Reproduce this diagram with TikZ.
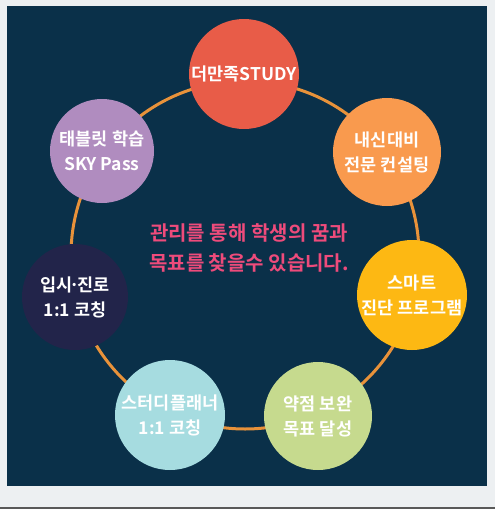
\documentclass[tikz,border=0pt]{standalone}
\usepackage{fontspec}
\newfontfamily\kr{Noto Sans CJK KR}[BoldFont={Noto Sans CJK KR Bold}]
\definecolor{bgnavy}{HTML}{0A3049}
\definecolor{outer}{HTML}{EDF0F2}
\definecolor{ringc}{HTML}{E8923A}
\definecolor{cred}{HTML}{E85C48}
\definecolor{cpurple}{HTML}{B08CBF}
\definecolor{corange}{HTML}{F99A4E}
\definecolor{cindigo}{HTML}{22244A}
\definecolor{cyellow}{HTML}{FDB813}
\definecolor{cblue}{HTML}{A6DCE0}
\definecolor{cgreen}{HTML}{C6DA8E}
\definecolor{cpink}{HTML}{EE4B7B}
\tikzset{
  bubble/.style={circle, inner sep=0pt, text=white, align=center,
    font=\kr\bfseries\fontsize{17.5}{25}\selectfont},
  ring/.style={draw=ringc, line width=3pt},
  centertext/.style={text=cpink, align=center, font=\kr\bfseries\fontsize{20}{30}\selectfont}
}
\begin{document}
\begin{tikzpicture}[x=1pt,y=-1pt]
\useasboundingbox (0,0) rectangle (495,509);
\fill[outer] (0,0) rectangle (495,509);
\fill[bgnavy] (7,6) rectangle (487,486);
\fill[black!65] (0,506.5) rectangle (495,509);
\coordinate (mid) at (245,255);
\draw[ring] (mid) circle (174);
\node[bubble, fill=cred, minimum size=110pt] (s1) at (244,74) {더만족STUDY};
\node[bubble, fill=corange, minimum size=108pt] (s2) at (387,152) {내신대비\\전문 컨설팅};
\node[bubble, fill=cyellow, minimum size=110pt] (s3) at (412,295) {스마트\\진단 프로그램};
\node[bubble, fill=cgreen, minimum size=108pt] (s4) at (318,416) {약점 보완\\목표 달성};
\node[bubble, fill=cblue, minimum size=110pt] (s5) at (170,415) {스터디플래너\\1:1 코칭};
\node[bubble, fill=cindigo, minimum size=106pt] (s6) at (75,297) {입시\kern-2.5pt·\kern-2.5pt 진로\\1:1 코칭};
\node[bubble, fill=cpurple, minimum size=104pt] (s7) at (102,151) {태블릿 학습\\SKY Pass};
\node[centertext] (msg) at (249,248) {관리를 통해 학생의 꿈과\\목표를 찾을수 있습니다.};
\end{tikzpicture}
\end{document}
